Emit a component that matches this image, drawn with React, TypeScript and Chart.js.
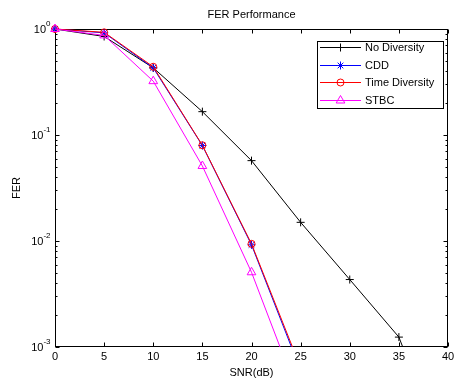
import React, { useEffect, useRef } from 'react';
import { Chart, registerables } from 'chart.js';

Chart.register(...registerables);

const snr = [0, 5, 10, 15, 20, 25, 30, 35, 40];
const noDiversity = [1.0, 0.85, 0.43, 0.166, 0.0573, 0.015, 0.00433, 0.00124, 0.00008];
const cdd = [1.0, 0.92, 0.43, 0.0795, 0.0092, 0.0006];
const timeDiversity = [1.0, 0.93, 0.44, 0.08, 0.0094, 0.00064];
const stbc = [1.0, 0.87, 0.322, 0.051, 0.00507, 0.00031];

const seriesNames = ['No Diversity', 'CDD', 'Time Diversity', 'STBC'];
const seriesColors = ['#000000', '#0000ff', '#ff0000', '#ff00ff'];
const seriesMarkers = ['cross', 'star', 'circle', 'triangle'];
const seriesRadius = [4, 4, 3.5, 5];

const xTicks = [0, 5, 10, 15, 20, 25, 30, 35, 40];
const yTickExps = [0, -1, -2, -3];

const titleText = 'FER Performance';
const xLabel = 'SNR(dB)';
const yLabel = 'FER';

const FONT = '"Liberation Sans", Arial, sans-serif';

function toPoints(vals: number[]) {
  return vals.map((v, i) => ({ x: snr[i], y: v }));
}

function drawMarker(ctx: CanvasRenderingContext2D, style: string, cx: number, cy: number, r: number) {
  ctx.beginPath();
  if (style === 'cross') {
    ctx.moveTo(cx - r, cy); ctx.lineTo(cx + r, cy);
    ctx.moveTo(cx, cy - r); ctx.lineTo(cx, cy + r);
  } else if (style === 'star') {
    ctx.moveTo(cx - r, cy); ctx.lineTo(cx + r, cy);
    ctx.moveTo(cx, cy - r); ctx.lineTo(cx, cy + r);
    const d = r * Math.SQRT1_2;
    ctx.moveTo(cx - d, cy - d); ctx.lineTo(cx + d, cy + d);
    ctx.moveTo(cx - d, cy + d); ctx.lineTo(cx + d, cy - d);
  } else if (style === 'circle') {
    ctx.arc(cx, cy, r, 0, Math.PI * 2);
  } else if (style === 'triangle') {
    const h = r * 1.5;
    ctx.moveTo(cx, cy - r);
    ctx.lineTo(cx + r * 0.866, cy + r * 0.5);
    ctx.lineTo(cx - r * 0.866, cy + r * 0.5);
    ctx.closePath();
    void h;
  }
  ctx.stroke();
}

const axesPlugin = {
  id: 'matlabAxes',
  beforeDatasetsDraw(chart: any) {
    const { ctx, chartArea: a, scales } = chart;
    const xs = scales.x, ys = scales.y;
    const L = Math.round(a.left) + 0.5;
    const R = Math.round(a.right) - 0.5;
    const T = Math.round(a.top) + 0.5;
    const B = Math.round(a.bottom) - 0.5;
    ctx.save();
    ctx.fillStyle = '#ffffff';
    ctx.fillRect(a.left, a.top, a.right - a.left, a.bottom - a.top);
    ctx.strokeStyle = '#000000';
    ctx.lineWidth = 1;
    ctx.strokeRect(L, T, R - L, B - T);
    ctx.beginPath();
    for (const v of xTicks) {
      const px = Math.round(xs.getPixelForValue(v)) + 0.5;
      ctx.moveTo(px, B); ctx.lineTo(px, B - 4);
      ctx.moveTo(px, T); ctx.lineTo(px, T + 4);
    }
    for (const e of yTickExps) {
      const py = Math.round(ys.getPixelForValue(Math.pow(10, e))) + 0.5;
      ctx.moveTo(L, py); ctx.lineTo(L + 4, py);
      ctx.moveTo(R, py); ctx.lineTo(R - 4, py);
      if (e > -3) {
        for (let m = 2; m <= 9; m++) {
          const pm = Math.round(ys.getPixelForValue(m * Math.pow(10, e - 1))) + 0.5;
          ctx.moveTo(L, pm); ctx.lineTo(L + 2, pm);
          ctx.moveTo(R, pm); ctx.lineTo(R - 2, pm);
        }
      }
    }
    ctx.stroke();

    ctx.fillStyle = '#000000';
    ctx.font = '11px ' + FONT;
    ctx.textAlign = 'center';
    ctx.textBaseline = 'middle';
    for (const v of xTicks) {
      ctx.fillText(String(v), xs.getPixelForValue(v), 357);
    }
    for (const e of yTickExps) {
      const py = ys.getPixelForValue(Math.pow(10, e));
      ctx.font = '8px ' + FONT;
      const sup = String(e);
      const sw = ctx.measureText(sup).width;
      ctx.textAlign = 'left';
      ctx.fillText(sup, L - 5 - sw, py - 5);
      ctx.font = '11px ' + FONT;
      ctx.textAlign = 'right';
      ctx.fillText('10', L - 5 - sw, py + 1);
    }
    ctx.textAlign = 'center';
    ctx.fillText(titleText, (L + R) / 2, 15);
    ctx.fillText(xLabel, (L + R) / 2, 373);
    ctx.save();
    ctx.translate(17, (T + B) / 2);
    ctx.rotate(-Math.PI / 2);
    ctx.fillText(yLabel, 0, 0);
    ctx.restore();
    ctx.restore();
  },
  afterDraw(chart: any) {
    const { ctx } = chart;
    ctx.save();
    const bx = 317.5, by = 41.5, bw = 126, bh = 67;
    ctx.fillStyle = '#ffffff';
    ctx.fillRect(bx, by, bw, bh);
    ctx.strokeStyle = '#000000';
    ctx.lineWidth = 1;
    ctx.strokeRect(bx, by, bw, bh);
    const rows = [47, 64.5, 82, 99.5];
    ctx.font = '11px ' + FONT;
    ctx.textAlign = 'left';
    ctx.textBaseline = 'middle';
    seriesNames.forEach((name, i) => {
      const y = Math.round(rows[i]) + 0.5;
      ctx.strokeStyle = seriesColors[i];
      ctx.beginPath();
      ctx.moveTo(320, y); ctx.lineTo(361, y);
      ctx.stroke();
      drawMarker(ctx, seriesMarkers[i], 340.5, y, seriesRadius[i]);
      ctx.fillStyle = '#000000';
      ctx.fillText(name, 365, y);
    });
    ctx.restore();
  },
};

export default function App() {
  const ref = useRef<HTMLCanvasElement | null>(null);
  useEffect(() => {
    document.body.style.margin = '0';
    const canvas = ref.current;
    if (!canvas) return;
    const allSeries = [noDiversity, cdd, timeDiversity, stbc];
    const chart = new Chart(canvas, {
      type: 'line',
      data: {
        datasets: allSeries.map((vals, i) => ({
          label: seriesNames[i],
          data: toPoints(vals),
          borderColor: seriesColors[i],
          backgroundColor: 'rgba(0,0,0,0)',
          borderWidth: 1,
          pointStyle: seriesMarkers[i] as any,
          pointRadius: seriesRadius[i],
          pointBorderWidth: 1,
          pointBorderColor: seriesColors[i],
          pointBackgroundColor: 'rgba(0,0,0,0)',
          tension: 0,
          fill: false,
          order: 4 - i,
          clip: { left: 10, top: 10, right: 10, bottom: 0 } as any,
        })),
      },
      options: {
        animation: false,
        responsive: false,
        devicePixelRatio: 1,
        layout: { padding: { left: 55, top: 29, right: 8, bottom: 33 } },
        plugins: { legend: { display: false }, tooltip: { enabled: false }, title: { display: false } },
        scales: {
          x: { type: 'linear', min: 0, max: 40, display: false },
          y: { type: 'logarithmic', min: 0.001, max: 1, display: false },
        },
      },
      plugins: [axesPlugin],
    });
    return () => chart.destroy();
  }, []);
  return (
    <div style={{ position: 'fixed', left: 0, top: 0, width: 456, height: 380, background: '#fff' }}>
      <canvas ref={ref} width={456} height={380} />
    </div>
  );
}
